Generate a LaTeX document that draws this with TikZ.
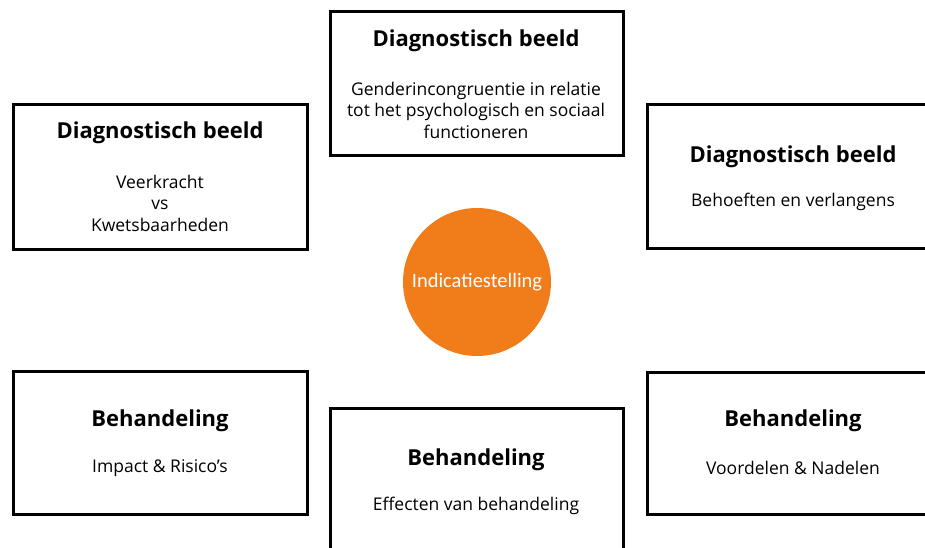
\documentclass[tikz,border=0pt]{standalone}
\usepackage{fontspec}
\setmainfont{Open Sans}
\newfontfamily\circfont{Carlito}
\definecolor{circorange}{RGB}{240,124,26}
\begin{document}
\begin{tikzpicture}[x=1pt,y=-1pt,
  boxstyle/.style={draw=black,line width=3pt,fill=white},
  headtxt/.style={font=\fontsize{22}{26}\selectfont\bfseries,text=black,inner sep=0pt},
  bodytxt/.style={font=\fontsize{17.5}{21.5}\selectfont,text=black,align=center,inner sep=0pt}]
\useasboundingbox (0,0) rectangle (925,548);
\begin{scope}
\clip (0,0) rectangle (925,548);
% boxes
\draw[boxstyle] (13,105) rectangle (307,249);
\draw[boxstyle] (330,12) rectangle (623,156);
\draw[boxstyle] (647,105) rectangle (945,248);
\draw[boxstyle] (13,371) rectangle (307,514);
\draw[boxstyle] (330,408) rectangle (623,560);
\draw[boxstyle] (647,372) rectangle (945,514);
\end{scope}
% circle
\node[circle,fill=circorange,minimum size=148pt,inner sep=0pt] (ind) at (477,282) {};
\node[font=\circfont\fontsize{20.5}{24}\selectfont,text=white] (indt) at (477,282) {Indicatiestelling};
% top left
\node[headtxt] (h1) at (160,133) {Diagnostisch beeld};
\node[bodytxt] (b1) at (160,203) {Veerkracht\\vs\\Kwetsbaarheden};
% top center
\node[headtxt] (h2) at (476,41) {Diagnostisch beeld};
\node[bodytxt] (b2) at (476,110) {Genderincongruentie in relatie\\tot het psychologisch en sociaal\\functioneren};
% top right
\node[headtxt] (h3) at (793,157) {Diagnostisch beeld};
\node[bodytxt] (b3) at (793,202) {Behoeften en verlangens};
% bottom left
\node[headtxt] (h4) at (160,421) {Behandeling};
\node[bodytxt] (b4) at (160,468) {Impact \& Risico’s};
% bottom center
\node[headtxt] (h5) at (476,460) {Behandeling};
\node[bodytxt] (b5) at (476,506) {Effecten van behandeling};
% bottom right
\node[headtxt] (h6) at (793,421) {Behandeling};
\node[bodytxt] (b6) at (793,468) {Voordelen \& Nadelen};
\end{tikzpicture}
\end{document}
